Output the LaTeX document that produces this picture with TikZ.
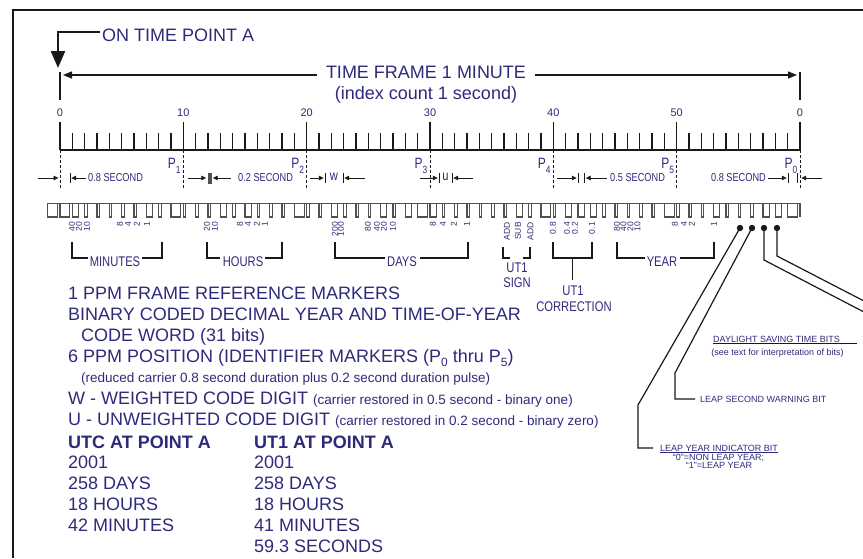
\documentclass[tikz,border=0pt]{standalone}
\usepackage{fontspec}
\setmainfont{Liberation Sans}
\newfontfamily\narrowf[FakeStretch=0.8]{Liberation Sans}
\usetikzlibrary{arrows.meta}
\definecolor{navy}{RGB}{46,42,122}
\definecolor{ink}{RGB}{25,25,25}
\definecolor{wave}{RGB}{80,80,80}
\newcommand\szBig{\fontsize{18}{20}\selectfont}
\newcommand\szSmall{\fontsize{13.5}{15}\selectfont}
\newcommand\szTiny{\fontsize{9}{10}\selectfont}
\newcommand\szNum{\fontsize{11}{11}\selectfont}
\newcommand\szLab{\narrowf\fontsize{14}{14}\selectfont}
\newcommand\szDim{\narrowf\fontsize{11.5}{12}\selectfont}
\newcommand\szRot{\fontsize{8.5}{9}\selectfont}
\newcommand\Psub[1]{{\narrowf\fontsize{15}{15}\selectfont P}\raisebox{-5pt}{\narrowf\fontsize{10.5}{10.5}\selectfont #1}}
\newcommand\Ptxt[1]{P\raisebox{-3.5pt}{\fontsize{12}{12}\selectfont #1}}
\tikzset{
  txt/.style={text=navy, inner sep=0pt},
  ln/.style={draw=ink, line width=1.2pt},
  wavest/.style={draw=wave, line width=1.1pt},
  wavethin/.style={draw=wave, line width=0.6pt},
  dimarr/.style={draw=ink, line width=0.9pt, -{Triangle[length=5pt,width=4.5pt]}},
  dimbar/.style={draw=ink, line width=1pt},
  dashln/.style={draw=ink, line width=0.7pt, dash pattern=on 3pt off 2pt},
  rotlab/.style={txt, font=\szRot, rotate=90, anchor=east},
  brlab/.style={txt, font=\szLab},
}
\begin{document}
\begin{tikzpicture}[x=1pt,y=-1pt]
\useasboundingbox (0,0) rectangle (863,558);
% frame
\draw[ink, line width=1.2pt] (13,558) -- (13,10) -- (863,10);

% ON TIME POINT A
\node[txt, font=\szBig, anchor=base west] (ontime) at (102,41.4) {ON TIME POINT A};
\coordinate (onA) at (100,32);
\coordinate (tipA) at (58,68);
\draw[ink, line width=2.4pt, -{Triangle[length=17pt,width=14pt]}] (onA) -| (tipA);

% top ticks at 0 and 60
\draw[ink, line width=1.2pt] (60,72) -- (60,100);
\draw[ink, line width=1.2pt] (800,72) -- (800,100);

% time frame arrow
\coordinate (tfL) at (63,75);
\coordinate (tfR) at (797,75);
\draw[ink, line width=1.4pt, {Triangle[length=9pt,width=7pt]}-{Triangle[length=9pt,width=7pt]}] (tfL) -- (tfR);
\node[txt, font=\szBig, fill=white, inner xsep=9pt, anchor=base] (tf) at (426,78) {TIME FRAME 1 MINUTE};
\node[txt, font=\szBig, anchor=base] (idx) at (426,99) {(index count 1 second)};

% ruler
\foreach \i in {0,...,60} {
  \draw[ink, line width=1.1pt] ({60+12.3333*\i},133) -- ({60+12.3333*\i},150);
}
\foreach \i/\l in {0/0,10/10,20/20,30/30,40/40,50/50,60/0} {
  \draw[ink, line width=1.2pt] ({60+12.3333*\i},122) -- ({60+12.3333*\i},150);
  \node[txt, font=\szNum, anchor=base] (n\i) at ({60+12.3333*\i},116) {\l};
  \draw[dashln] ({60+12.3333*\i},150) -- ({60+12.3333*\i},190);
}
\draw[ink, line width=2.6pt] (60,150) -- (800,150);

% P labels
\foreach \k/\p in {10/1,20/2,30/3,40/4,50/5,60/0} {
  \node[txt, anchor=north east] (P\p) at ({60+12.3333*\k-2.5},157.5) {\Psub{\p}};
}

% dimension row
\draw[dimarr] (38,178) -- (58.5,178);
\draw[dimbar] (70,173) -- (70,183);
\draw[dimarr] (86,178) -- (71.2,178);
\node[txt, font=\szDim, anchor=west] (d1) at (88,178) {0.8 SECOND};

\draw[dimarr] (188,178) -- (206.3,178);
\fill[wave] (207.5,173) rectangle (211.5,184);
\draw[dimarr] (231,178) -- (212.7,178);
\node[txt, font=\szDim, anchor=west] (d2) at (238,178) {0.2 SECOND};

\draw[dimarr] (310,178) -- (323.8,178);
\draw[dimbar] (325,173) -- (325,183);
\node[txt, font=\szLab, anchor=center] (wl) at (334,177) {w};
\draw[dimbar] (343,173) -- (343,183);
\draw[dimarr] (365,178) -- (344.2,178);

\draw[dimarr] (420,178) -- (437.8,178);
\draw[dimbar] (439,173) -- (439,183);
\node[txt, font=\szLab, anchor=center] (ul) at (445.5,177) {u};
\draw[dimbar] (452,173) -- (452,183);
\draw[dimarr] (473,178) -- (453.2,178);

\draw[dimarr] (557,178) -- (576.8,178);
\draw[dimbar] (578,173) -- (578,183);
\draw[dimbar] (584.5,173) -- (584.5,183);
\draw[dimarr] (607,178) -- (585.7,178);
\node[txt, font=\szDim, anchor=west] (d5) at (610,178) {0.5 SECOND};

\node[txt, font=\szDim, anchor=east] (d6) at (766,178) {0.8 SECOND};
\draw[dimarr] (768,178) -- (786.8,178);
\draw[dimbar] (788,173) -- (788,183);
\draw[dimbar] (797.5,173) -- (797.5,183);
\draw[dimarr] (822,178) -- (801.2,178);

% pulse train
\draw[wavethin] (47.67,203) -- (800,203);
\foreach \s/\d in {-1/0.8,0/0.8,1/0.5,2/0.2,3/0.2,4/0.2,5/0.2,6/0.2,7/0.5,8/0.2,9/0.8,10/0.2,11/0.2,12/0.2,13/0.5,14/0.2,15/0.5,16/0.2,17/0.2,18/0.2,19/0.8,20/0.2,21/0.2,22/0.5,23/0.2,24/0.2,25/0.2,26/0.5,27/0.2,28/0.5,29/0.8,30/0.5,31/0.2,32/0.2,33/0.2,34/0.2,35/0.2,36/0.2,37/0.5,38/0.2,39/0.8,40/0.2,41/0.5,42/0.5,43/0.5,44/0.2,45/0.2,46/0.2,47/0.2,48/0.2,49/0.8,50/0.2,51/0.2,52/0.2,53/0.5,54/0.2,55/0.2,56/0.2,57/0.5,58/0.5,59/0.8} {
  \draw[wavest] ({60+12.3333*\s},203) -- ({60+12.3333*\s},217) -- ({60+12.3333*(\s+\d)},217) -- ({60+12.3333*(\s+\d)},203);
}
\draw[wavest] (800,203) -- (800,217);

% rotated bit labels
\foreach \x/\t in {72/40,79/20,87/10,120/8,128/4,137/2,147/1,
                   207/20,215/10,240/8,248/4,257/2,265/1,
                   335/200,341/100,368/80,377/40,384/20,393/10,433/8,443/4,454/2,467/1,
                   507/ADD,518/SUB,530.5/ADD,
                   553/0.8,567/0.4,575/0.2,592/0.1,
                   617/80,623.5/40,630.5/20,637.5/10,675/8,684/4,692/2,714/1} {
  \node[rotlab] at (\x,222) {\t};
}

% brackets
\draw[ln] (72,242) -- (72,258) -- (88,258);
\draw[ln] (142,258) -- (162,258) -- (162,242);
\node[brlab] (minutes) at (115,262) {MINUTES};
\draw[ln] (207,242) -- (207,258) -- (220,258);
\draw[ln] (265,258) -- (282,258) -- (282,242);
\node[brlab] (hours) at (243,262) {HOURS};
\draw[ln] (335,242) -- (335,258) -- (385,258);
\draw[ln] (420,258) -- (468,258) -- (468,242);
\node[brlab] (days) at (402,262) {DAYS};
\draw[ln] (503,247) -- (503,258) -- (510,258);
\draw[ln] (523,258) -- (530,258) -- (530,247);
\node[brlab] (sign1) at (517,268) {UT1};
\node[brlab] (sign2) at (517,283) {SIGN};
\draw[ln] (553,242) -- (553,258) -- (592,258) -- (592,242);
\draw[ln] (572.5,258) -- (572.5,280);
\node[brlab] (corr1) at (573,291) {UT1};
\node[brlab] (corr2) at (574,307) {CORRECTION};
\draw[ln] (617,242) -- (617,258) -- (645,258);
\draw[ln] (680,258) -- (714,258) -- (714,242);
\node[brlab] (year) at (662,262) {YEAR};

% special bits
\foreach \x/\n in {740/a,752/b,764/c,777/d} { \fill[ink] (\x,228) circle (3.2); \coordinate (dot\n) at (\x,228); }
\draw[ln] (dota) -- (638,405) -- (638,448) -- (653,448);
\draw[ln] (dotb) -- (675,373) -- (675,399) -- (695,399);
\draw[ln] (dotc) -- (764,260) -- (863,311.5);
\draw[ln] (dotd) -- (777,256) -- (863,300.5);

\node[txt, font=\szTiny, anchor=base west] (dst) at (713,342.2) {DAYLIGHT SAVING TIME BITS};
\draw[ink, line width=0.9pt] (713,343.8) -- (857,343.8);
\node[txt, font=\szTiny, anchor=base] (dst2) at (777.5,355) {(see text for interpretation of bits)};
\node[txt, font=\szTiny, anchor=base west] (lsw) at (700,402.2) {LEAP SECOND WARNING BIT};
\node[txt, font=\szTiny, anchor=base west] (lyi) at (660,451.2) {LEAP YEAR INDICATOR BIT};
\draw[navy, line width=0.7pt] (660,452.8) -- (lyi.east |- 0,452.8);
\node[txt, font=\szTiny, anchor=base] (lyi2) at (718.5,460.2) {``0''=NON LEAP YEAR;};
\node[txt, font=\szTiny, anchor=base] (lyi3) at (719,468.7) {``1''=LEAP YEAR};

% legend
\node[txt, font=\szBig, anchor=base west] (lg1) at (68,299.5) {1 PPM FRAME REFERENCE MARKERS};
\node[txt, font=\szBig, anchor=base west] (lg2) at (68,320.5) {BINARY CODED DECIMAL YEAR AND TIME-OF-YEAR};
\node[txt, font=\szBig, anchor=base west] (lg3) at (81,341.5) {CODE WORD (31 bits)};
\node[txt, font=\szBig, anchor=base west] (lg4) at (68,362.5) {6 PPM POSITION (IDENTIFIER MARKERS (\Ptxt{0} thru \Ptxt{5})};
\node[txt, font=\szSmall, anchor=base west] (lg5) at (81,382.5) {(reduced carrier 0.8 second duration plus 0.2 second duration pulse)};
\node[txt, font=\szBig, anchor=base west] (lg6) at (68,404.5) {W - WEIGHTED CODE DIGIT {\szSmall(carrier restored in 0.5 second - binary one)}};
\node[txt, font=\szBig, anchor=base west] (lg7) at (68,425.5) {U - UNWEIGHTED CODE DIGIT {\szSmall(carrier restored in 0.2 second - binary zero)}};

% results
\node[txt, font=\szBig\bfseries, anchor=base west] (utc0) at (68,448) {UTC AT POINT A};
\node[txt, font=\szBig, anchor=base west] (utc1) at (68,468.8) {2001};
\node[txt, font=\szBig, anchor=base west] (utc2) at (68,489.6) {258 DAYS};
\node[txt, font=\szBig, anchor=base west] (utc3) at (68,510.4) {18 HOURS};
\node[txt, font=\szBig, anchor=base west] (utc4) at (68,531.2) {42 MINUTES};
\node[txt, font=\szBig\bfseries, anchor=base west] (ut0) at (254,448) {UT1 AT POINT A};
\node[txt, font=\szBig, anchor=base west] (ut1) at (254,468.8) {2001};
\node[txt, font=\szBig, anchor=base west] (ut2) at (254,489.6) {258 DAYS};
\node[txt, font=\szBig, anchor=base west] (ut3) at (254,510.4) {18 HOURS};
\node[txt, font=\szBig, anchor=base west] (ut4) at (254,531.2) {41 MINUTES};
\node[txt, font=\szBig, anchor=base west] (ut5) at (254,552) {59.3 SECONDS};
\end{tikzpicture}
\end{document}
